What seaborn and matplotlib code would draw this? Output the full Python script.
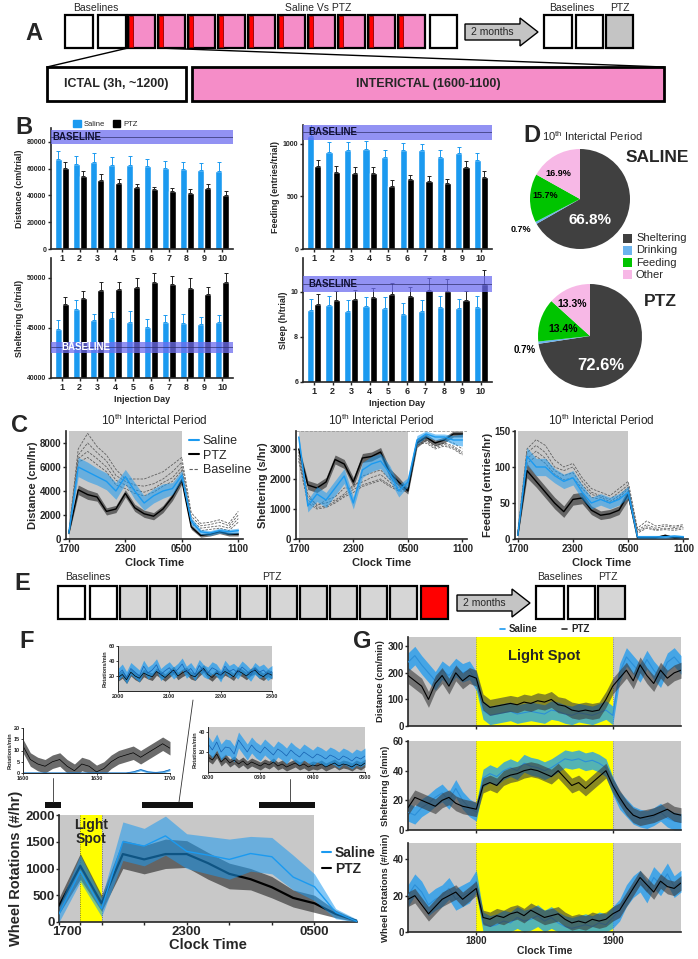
import numpy as np
import pandas as pd
import seaborn as sns
import matplotlib.pyplot as plt
import matplotlib.transforms as mtrans
from matplotlib.patches import Rectangle, Polygon
from matplotlib.lines import Line2D

sns.set_theme(style="ticks")
plt.rcParams['font.family'] = ['Liberation Sans', 'DejaVu Sans']
plt.rcParams['font.weight'] = 'bold'
plt.rcParams['axes.labelweight'] = 'bold'
plt.rcParams['axes.linewidth'] = 1.2
plt.rcParams['xtick.major.width'] = 1.0
plt.rcParams['ytick.major.width'] = 1.0
plt.rcParams['xtick.major.size'] = 2.5
plt.rcParams['ytick.major.size'] = 2.5

BLUE = "#1B9AF0"
BAND = "#6E6EF0"
GRAY = "#C8C8C8"
PINK = "#F58DC8"
YELLOW = "#FFFF00"

# ---------------- data ----------------
days = [1, 2, 3, 4, 5, 6, 7, 8, 9, 10]

dist_sal = [67500, 63500, 65000, 62500, 63000, 62000, 60500, 59800, 59000, 58200]
dist_sal_err = [6000, 6000, 7000, 6500, 6500, 5500, 5500, 5500, 5000, 6500]
dist_ptz = [60500, 54500, 51700, 49000, 46000, 44500, 43000, 42000, 45500, 40500]
dist_ptz_err = [4500, 3500, 4000, 3000, 2500, 2000, 2500, 2500, 3000, 3000]
dist_base = [78500, 83700, 89000]

shel_sal = [44900, 46900, 45800, 46000, 45600, 45100, 45600, 45500, 45400, 45600]
shel_sal_err = [900, 900, 600, 600, 1100, 800, 700, 900, 700, 700]
shel_ptz = [47400, 48000, 48800, 48900, 49100, 49600, 49400, 49000, 48400, 49600]
shel_ptz_err = [700, 700, 800, 700, 900, 900, 800, 1000, 700, 900]
shel_base = [42500, 43100, 43600]

feed_sal = [1080, 920, 940, 950, 876, 943, 943, 876, 914, 848]
feed_sal_err = [120, 100, 80, 80, 70, 70, 60, 70, 60, 70]
feed_ptz = [790, 730, 720, 720, 600, 667, 648, 628, 781, 686]
feed_ptz_err = [60, 60, 60, 60, 60, 40, 50, 40, 60, 60]
feed_base = [1040, 1114, 1180]

sleep_sal = [9.2, 9.4, 9.15, 9.35, 9.28, 9.0, 9.15, 9.33, 9.3, 9.33]
sleep_sal_err = [0.5, 0.4, 0.5, 0.4, 0.5, 0.5, 0.5, 0.5, 0.4, 0.5]
sleep_ptz = [9.45, 9.65, 9.7, 9.75, 9.9, 9.8, 10.1, 10.05, 9.65, 10.35]
sleep_ptz_err = [0.45, 0.4, 0.4, 0.4, 0.5, 0.4, 0.5, 0.5, 0.4, 0.6]
sleep_base = [10.0, 10.35, 10.7]

pie_labels = ["Sheltering", "Drinking", "Feeding", "Other"]
pie_colors = ["#404040", "#6CB4EE", "#00C400", "#F7B8E6"]
pie_saline = [66.8, 0.7, 15.7, 16.9]
pie_ptz = [72.6, 0.7, 13.4, 13.3]

hours = list(range(19))
c_ticks = [0, 6, 12, 18]
c_ticklabels = ["1700", "2300", "0500", "1100"]

cd_sal = [500, 6000, 5600, 5200, 4800, 4000, 5200, 4000, 3000, 3600, 4000, 4200, 5300, 1500, 600, 500, 700, 600, 700]
cd_sal_sem = [100, 800, 800, 700, 700, 700, 600, 700, 600, 600, 600, 500, 400, 300, 200, 200, 200, 200, 200]
cd_ptz = [500, 4100, 3700, 3500, 2300, 2500, 3800, 2600, 2100, 1900, 2500, 3500, 4900, 1000, 300, 400, 600, 400, 400]
cd_ptz_sem = [100, 400, 400, 350, 300, 300, 300, 300, 300, 300, 300, 300, 300, 200, 150, 150, 150, 150, 150]
cd_base = [
    [600, 7500, 8800, 7700, 7000, 5800, 5000, 5000, 5000, 5300, 5600, 6200, 6800, 2200, 1300, 1400, 1600, 1300, 2300],
    [500, 7000, 8000, 7200, 6500, 5300, 4800, 4500, 4400, 4600, 5000, 5600, 6400, 1900, 1100, 1200, 1400, 1100, 2000],
    [500, 6700, 7300, 6700, 6000, 4900, 4500, 4100, 3900, 4200, 4700, 5100, 6000, 1600, 900, 1000, 1100, 900, 1700],
    [400, 6400, 6800, 6200, 5600, 4500, 4200, 3800, 3600, 3900, 4400, 4800, 5700, 1300, 700, 800, 900, 700, 1400],
]

cs_sal = [3400, 1100, 1500, 1300, 1700, 2100, 1200, 2300, 2500, 2600, 2200, 1600, 1900, 3300, 3500, 3400, 3400, 3300, 3300]
cs_sal_sem = [100, 200, 250, 250, 250, 250, 200, 250, 250, 250, 250, 200, 150, 150, 100, 100, 100, 150, 200]
cs_ptz = [3000, 1800, 1700, 1900, 2650, 2500, 1900, 2700, 2750, 2900, 2200, 1900, 1600, 3200, 3400, 3200, 3300, 3500, 3500]
cs_ptz_sem = [100, 150, 150, 150, 150, 150, 150, 150, 150, 150, 150, 150, 100, 150, 100, 100, 100, 100, 100]
cs_base = [
    [2900, 1500, 1100, 1300, 1400, 1700, 1700, 2100, 2200, 2300, 2000, 1800, 1800, 3300, 3350, 3200, 3300, 3200, 3000],
    [2800, 1400, 1150, 1200, 1300, 1500, 1800, 1900, 2050, 2150, 1900, 1700, 1700, 3250, 3300, 3100, 3200, 3100, 2900],
    [2700, 1300, 1050, 1100, 1250, 1450, 1650, 1800, 1900, 2000, 1800, 1650, 1650, 3200, 3250, 3050, 3150, 3050, 2850],
    [2600, 1200, 1000, 1050, 1200, 1400, 1550, 1750, 1850, 1950, 1750, 1600, 1600, 3150, 3200, 3000, 3100, 3000, 2800],
]

cf_sal = [5, 115, 100, 100, 88, 80, 85, 65, 50, 55, 50, 55, 65, 3, 3, 3, 3, 4, 3]
cf_sal_sem = [2, 12, 12, 12, 10, 10, 10, 10, 8, 8, 8, 8, 8, 2, 2, 2, 2, 2, 2]
cf_ptz = [5, 95, 80, 65, 50, 38, 55, 57, 40, 33, 35, 40, 62, 2, 2, 2, 5, 2, 2]
cf_ptz_sem = [2, 10, 8, 8, 8, 8, 8, 8, 6, 6, 6, 6, 8, 1, 1, 1, 2, 1, 1]
cf_base = [
    [10, 125, 138, 130, 110, 100, 105, 85, 70, 65, 60, 70, 80, 15, 25, 18, 20, 18, 20],
    [8, 120, 130, 120, 100, 95, 100, 80, 65, 60, 55, 65, 75, 12, 20, 15, 18, 16, 18],
    [6, 112, 122, 112, 95, 88, 92, 75, 62, 58, 52, 60, 72, 10, 17, 13, 15, 14, 16],
    [5, 105, 115, 105, 90, 82, 85, 70, 58, 55, 50, 57, 70, 8, 15, 12, 13, 12, 14],
]

# F: wheel rotations per hour
f_hours = list(range(15))
f_sal = [150, 950, 250, 1500, 1420, 1610, 1320, 1250, 1170, 1280, 1220, 840, 660, 180, 10]
f_sal_hi = [300, 1250, 450, 1870, 1750, 1980, 1650, 1600, 1550, 1600, 1580, 1250, 900, 250, 50]
f_sal_lo = [0, 750, 100, 1150, 1050, 1250, 1000, 900, 800, 950, 900, 600, 400, 60, 0]
f_ptz = [300, 1050, 350, 1270, 1170, 1270, 1270, 1100, 900, 800, 650, 450, 350, 150, 20]
f_ptz_hi = [450, 1280, 500, 1530, 1430, 1550, 1520, 1300, 1100, 1000, 850, 600, 500, 220, 40]
f_ptz_lo = [150, 800, 200, 1000, 900, 1000, 1020, 800, 620, 600, 450, 280, 180, 80, 0]

# F insets (rotations/min)
in1_t = list(range(0, 61, 3))
in1_ptz = [12, 6, 4, 3, 5, 6, 3, 1, 4, 3, 0.5, 2, 5, 7, 8, 9, 7, 9, 11, 13, 11]
in1_sal = [0, 0, 0, 0, 0, 0, 0, 0, 0, 0, 0, 0, 0, 0, 0, 0.5, 1.5, 0.5, 0.2, 0.5, 1.5]
in2_t = list(range(0, 181, 5))
in2_sal = [22, 28, 18, 30, 25, 20, 33, 24, 28, 35, 22, 27, 31, 24, 29, 36, 25, 30, 22, 34, 27, 24, 31, 28, 20,
           33, 26, 29, 24, 32, 27, 21, 30, 25, 28, 22, 26]
in2_ptz = [18, 22, 15, 25, 20, 17, 24, 21, 19, 26, 22, 18, 23, 28, 20, 24, 27, 21, 19, 25, 30, 22, 18, 24, 21,
           26, 23, 19, 27, 24, 20, 25, 28, 22, 19, 24, 21]
in3_t = list(range(0, 181, 5))
in3_sal = [28, 22, 30, 20, 25, 24, 18, 32, 26, 20, 27, 22, 19, 25, 21, 17, 23, 20, 16, 22, 18, 15, 20, 17, 14,
           18, 16, 13, 17, 15, 12, 16, 14, 11, 15, 13, 16]
in3_ptz = [15, 12, 18, 10, 14, 9, 12, 8, 11, 7, 10, 8, 6, 9, 7, 10, 6, 8, 5, 7, 9, 6, 8, 5, 7,
           6, 8, 5, 7, 9, 6, 8, 7, 5, 8, 6, 9]

# G: light spot test, minutes from 1800
g_t = list(range(-30, 91, 3))
gd_sal = [240, 265, 230, 200, 170, 210, 190, 220, 200, 210, 170, 60, 40, 45, 50, 55, 45, 50, 55, 50, 45,
          60, 55, 45, 40, 50, 45, 40, 50, 60, 40, 200, 260, 230, 200, 250, 210, 180, 240, 260, 230]
gd_ptz = [190, 170, 150, 100, 160, 190, 150, 200, 170, 190, 180, 90, 70, 75, 80, 85, 80, 90, 85, 95, 90,
          100, 80, 75, 60, 55, 60, 55, 60, 100, 150, 180, 210, 170, 230, 190, 160, 210, 180, 200, 210]
gs_sal = [12, 10, 15, 18, 22, 25, 20, 28, 20, 15, 12, 35, 38, 36, 40, 42, 40, 45, 43, 42, 40,
          42, 45, 48, 47, 48, 46, 47, 45, 42, 30, 20, 15, 10, 8, 7, 9, 12, 8, 6, 5]
gs_ptz = [15, 22, 20, 18, 16, 20, 22, 18, 16, 15, 14, 30, 32, 30, 35, 37, 38, 40, 41, 40, 38,
          36, 40, 35, 30, 32, 28, 32, 36, 40, 30, 22, 15, 10, 8, 9, 10, 12, 14, 11, 10]
gw_sal = [20, 26, 22, 15, 18, 20, 24, 18, 20, 22, 28, 5, 3, 4, 6, 5, 8, 6, 7, 9, 6,
          8, 5, 3, 2, 3, 4, 3, 5, 4, 8, 12, 20, 25, 28, 22, 30, 26, 32, 25, 28]
gw_ptz = [18, 20, 15, 10, 14, 18, 20, 22, 18, 21, 24, 8, 7, 9, 8, 10, 11, 9, 12, 10, 8,
          9, 10, 7, 5, 6, 5, 7, 6, 7, 10, 12, 18, 24, 30, 26, 22, 28, 25, 24, 27]

# ---------------- figure ----------------
W, H = 698, 959
fig = plt.figure(figsize=(W / 100, H / 100), dpi=100)


def px_axes(x0, y0, x1, y1):
    return fig.add_axes([x0 / W, 1 - y1 / H, (x1 - x0) / W, (y1 - y0) / H])


ov = fig.add_axes([0, 0, 1, 1])
ov.set_xlim(0, W)
ov.set_ylim(H, 0)
ov.axis("off")
ov.set_zorder(5)

NARROW = ['Liberation Sans Narrow', 'Liberation Sans', 'DejaVu Sans']


def box(x, y, w, h, fc="white", lw=1.6):
    ov.add_patch(Rectangle((x, y), w, h, facecolor=fc, edgecolor="black", lw=lw))


def note(x, y, s, fs=7.5):
    ov.text(x, y, s, ha="center", va="center", fontsize=fs, fontweight="normal", family=NARROW)


def arrow(x0, x1, yc, label):
    body = 8
    head = 14
    pts = [(x0, yc - body), (x1 - 18, yc - body), (x1 - 18, yc - head), (x1, yc),
           (x1 - 18, yc + head), (x1 - 18, yc + body), (x0, yc + body)]
    ov.add_patch(Polygon(pts, closed=True, facecolor="#C4C4C4", edgecolor="black", lw=1.0))
    note((x0 + x1 - 18) / 2, yc, label)


def letter(x, y, s):
    ov.text(x, y, s, fontsize=17, fontweight="bold", ha="center", va="center")


# ---- A ----
letter(34, 34, "A")
box(65, 15, 28, 33)
box(98, 15, 28, 33)
for i in range(10):
    x = 128 + 30 * i
    box(x, 15, 27, 33, fc=PINK)
    ov.add_patch(Rectangle((x + 0.8, 15.8), 4, 31.4, facecolor="#FF0000", edgecolor="#8B0000", lw=0.6))
box(430, 15, 27, 33)
arrow(465, 538, 32, "2 months")
box(544, 15, 28, 33)
box(576, 15, 27, 33)
box(606, 15, 27, 33, fc="#C4C4C4")
note(96, 8, "Baselines")
note(318, 8, "Saline Vs PTZ")
note(572, 8, "Baselines")
note(620, 8, "PTZ")
ov.plot([128, 47], [48, 67], color="black", lw=1.0)
ov.plot([158, 664], [48, 67], color="black", lw=1.0)
box(47, 67, 139, 34, lw=2)
box(192, 67, 472, 34, fc=PINK, lw=2)
ov.text(116, 84, "ICTAL (3h, ~1200)", ha="center", va="center", fontsize=9, family=NARROW)
ov.text(428, 84, "INTERICTAL (1600-1100)", ha="center", va="center", fontsize=9, family=NARROW)


# ---- B ----
def bars(ax, sal, sal_err, ptz, ptz_err, base, ylim, yticks, ylabel, base_col, base_x, xlabel=None):
    ax.set_facecolor("none")
    df = pd.DataFrame({"day": days * 2, "val": sal + ptz,
                       "group": ["Saline"] * 10 + ["PTZ"] * 10})
    sns.barplot(data=df, x="day", y="val", hue="group", palette=[BLUE, "black"], width=0.78,
                errorbar=None, saturation=1, legend=False, ax=ax)
    for cont, err, col in zip(ax.containers, [sal_err, ptz_err], [BLUE, "#222222"]):
        xs = [b.get_x() + b.get_width() / 2 for b in cont]
        hs = [b.get_height() for b in cont]
        ax.errorbar(xs, hs, yerr=[np.zeros(10), err], fmt="none", ecolor=col, elinewidth=0.7,
                    capsize=1.6, capthick=0.7)
    ax.axhspan(base[0], base[2], color=BAND, alpha=0.75, lw=0, zorder=5)
    ax.axhline(base[1], color="#30306A", lw=0.5, zorder=6)
    ax.text(base_x, base[1], "BASELINE", fontsize=7, fontweight="bold", color=base_col,
            va="center", ha="left", zorder=7)
    ax.set_ylim(ylim)
    ax.set_xlim(-0.6, 9.6)
    ax.set_yticks(yticks)
    ax.set_ylabel(ylabel, fontsize=6.5, labelpad=2)
    ax.set_xlabel(xlabel if xlabel else "", fontsize=6.5, labelpad=2)
    ax.tick_params(axis="x", labelsize=6.5, pad=1)
    ax.tick_params(axis="y", labelsize=5, pad=1)
    sns.despine(ax=ax)


ax = px_axes(51, 128, 233, 249)
bars(ax, dist_sal, dist_sal_err, dist_ptz, dist_ptz_err, dist_base, (0, 90400),
     [0, 20000, 40000, 60000, 80000], "Distance (cm/trial)", "#111133", -0.5)
ax.legend(handles=[Rectangle((0, 0), 1, 1, color=BLUE), Rectangle((0, 0), 1, 1, color="black")],
          labels=["Saline", "PTZ"], ncol=2, frameon=False, loc="lower left",
          bbox_to_anchor=(0.1, 0.97), handlelength=1.0, handleheight=1.0, columnspacing=1.0,
          handletextpad=0.4, borderpad=0, prop={"weight": "normal", "size": 5.5})

ax = px_axes(51, 258, 233, 378)
bars(ax, shel_sal, shel_sal_err, shel_ptz, shel_ptz_err, shel_base, (40000, 52000),
     [40000, 45000, 50000], "Sheltering (s/trial)", "white", 0.0, "Injection Day")

ax = px_axes(303, 125, 492, 249)
bars(ax, feed_sal, feed_sal_err, feed_ptz, feed_ptz_err, feed_base, (0, 1180),
     [0, 500, 1000], "Feeding (entries/trial)", "#111133", -0.3)

ax = px_axes(303, 258, 492, 382)
bars(ax, sleep_sal, sleep_sal_err, sleep_ptz, sleep_ptz_err, sleep_base, (6, 11.5),
     [6, 8, 10], "Sleep (h/trial)", "#111133", -0.3, "Injection Day")

letter(24, 127, "B")

# ---- D ----
letter(532, 135, "D")
ov.text(542, 136, r"10$^{\mathregular{th}}$ Interictal Period", fontsize=8, fontweight="normal",
        va="center", ha="left")


def pie(box_px, vals, texts):
    ax = px_axes(*box_px)
    ax.pie(vals, colors=pie_colors, startangle=90, counterclock=False,
           wedgeprops=dict(linewidth=0))
    ax.set_xlim(-1, 1)
    ax.set_ylim(-1, 1)
    ax.set_aspect("equal")
    for (x, y, s, col, fs) in texts:
        ax.text(x, y, s, color=col, fontsize=fs, ha="center", va="center", fontweight="bold",
                clip_on=False)


pie((530, 149, 630, 249), pie_saline,
    [(0.2, -0.42, "66.8%", "white", 11), (-0.7, 0.06, "15.7%", "black", 6.5),
     (-0.44, 0.5, "16.9%", "black", 6.5), (-1.18, -0.6, "0.7%", "black", 6.5)])
pie((538, 284, 642, 388), pie_ptz,
    [(0.2, -0.56, "72.6%", "white", 12), (-0.52, 0.13, "13.4%", "black", 7.5),
     (-0.35, 0.62, "13.3%", "black", 7.5), (-1.26, -0.27, "0.7%", "black", 7)])
ov.text(657, 157, "SALINE", fontsize=12.5, fontweight="bold", ha="center", va="center")
ov.text(660, 302, "PTZ", fontsize=12.5, fontweight="bold", ha="center", va="center")
for i, (lab, col) in enumerate(zip(pie_labels, pie_colors)):
    y = 238 + 12.3 * i
    ov.add_patch(Rectangle((623, y - 4.5), 9, 9, facecolor=col, edgecolor="none"))
    ov.text(636, y, lab, fontsize=8, fontweight="normal", va="center", ha="left")


# ---- C ----
def cplot(box_px, sal, sal_sem, ptz, ptz_sem, bases, ylim, yticks, ylabel):
    ax = px_axes(*box_px)
    ax.axvspan(0, 12, color=GRAY, lw=0, zorder=0)
    sal = np.array(sal, float)
    ptz = np.array(ptz, float)
    for bl in bases:
        ax.plot(hours, bl, color="#606060", lw=0.6, dashes=(3, 1.5), zorder=1)
    ax.fill_between(hours, ptz - np.array(ptz_sem), ptz + np.array(ptz_sem), color="#3A3A3A",
                    alpha=0.7, lw=0, zorder=2)
    sns.lineplot(x=hours, y=ptz, color="black", lw=1.0, ax=ax, zorder=3)
    ax.fill_between(hours, sal - np.array(sal_sem), sal + np.array(sal_sem), color=BLUE,
                    alpha=0.55, lw=0, zorder=4)
    sns.lineplot(x=hours, y=sal, color=BLUE, lw=1.0, ax=ax, zorder=5)
    ax.set_xlim(-0.3, 18.5)
    ax.set_ylim(ylim)
    ax.set_yticks(yticks)
    ax.set_xticks(c_ticks)
    ax.set_xticklabels(c_ticklabels)
    ax.tick_params(labelsize=7, pad=1)
    ax.set_ylabel(ylabel, fontsize=8, labelpad=1)
    ax.set_xlabel("Clock Time", fontsize=8, labelpad=3)
    ax.set_title(r"10$^{\mathregular{th}}$ Interictal Period", fontsize=8.5, fontweight="normal", pad=4)
    sns.despine(ax=ax)
    return ax


ax = cplot((66, 431, 243, 539), cd_sal, cd_sal_sem, cd_ptz, cd_ptz_sem, cd_base, (0, 9000),
           [0, 2000, 4000, 6000, 8000], "Distance (cm/hr)")
ax.legend(handles=[Line2D([], [], color=BLUE, lw=1.5), Line2D([], [], color="black", lw=1.5),
                   Line2D([], [], color="#606060", lw=0.8, dashes=(3, 1.5))],
          labels=["Saline", "PTZ", "Baseline"], loc="upper left", bbox_to_anchor=(0.66, 1.02),
          frameon=False, handlelength=0.8, handletextpad=0.3, labelspacing=0.2, borderpad=0,
          prop={"weight": "normal", "size": 9})
ax = cplot((296, 431, 467, 539), cs_sal, cs_sal_sem, cs_ptz, cs_ptz_sem, cs_base, (0, 3600),
           [0, 1000, 2000, 3000], "Sheltering (s/hr)")
ax.axhline(3600, color="#999999", lw=0.6, ls="--")
cplot((515, 431, 688, 539), cf_sal, cf_sal_sem, cf_ptz, cf_ptz_sem, cf_base, (0, 150),
      [0, 50, 100, 150], "Feeding (entries/hr)")
letter(20, 425, "C")

# ---- E ----
letter(22, 583, "E")
box(58, 586, 27, 33)
box(90, 586, 27, 33)
for i in range(10):
    box(120 + 30 * i, 586, 27, 33, fc="#D6D6D6")
box(421, 586, 27, 33, fc="#FF0000")
arrow(457, 530, 603, "2 months")
box(536, 586, 28, 33)
box(568, 586, 27, 33)
box(598, 586, 27, 33, fc="#D6D6D6")
note(88, 577, "Baselines")
note(272, 577, "PTZ")
note(560, 577, "Baselines")
note(608, 577, "PTZ")


# ---- F ----
letter(27, 642, "F")


def inset(box_px, t, sal, ptz, s_sem, p_sem, ylim, yticks, xt, xl, gray):
    ax = px_axes(*box_px)
    if gray:
        ax.set_facecolor(GRAY)
    sal = np.array(sal, float)
    ptz = np.array(ptz, float)
    ax.fill_between(t, ptz - p_sem, ptz + p_sem, color="#3A3A3A", alpha=0.75, lw=0)
    ax.plot(t, ptz, color="black", lw=0.5)
    ax.fill_between(t, np.clip(sal - s_sem, 0, None), sal + s_sem, color=BLUE, alpha=0.7, lw=0)
    ax.plot(t, sal, color="#1560B0", lw=0.5)
    ax.set_xlim(t[0], t[-1])
    ax.set_ylim(ylim)
    ax.set_yticks(yticks)
    ax.set_xticks(xt)
    ax.set_xticklabels(xl)
    ax.tick_params(labelsize=4, pad=0.5, length=1.5, width=0.6)
    ax.set_ylabel("Rotations/min", fontsize=4, labelpad=1)
    for s in ["left", "bottom"]:
        ax.spines[s].set_linewidth(0.7)
    sns.despine(ax=ax)
    return ax


inset((118, 646, 272, 691), in2_t, in2_sal, in2_ptz, 8, 5, (0, 60), [20, 40, 60],
      [0, 60, 120, 180], ["2000", "2100", "2200", "2300"], True)
inset((23, 728, 170, 773), in1_t, in1_sal, in1_ptz, 0.5, 3, (0, 20), [0, 5, 10, 15, 20],
      [0, 30, 60], ["1600", "1630", "1700"], False)
inset((208, 727, 365, 772), in3_t, in3_sal, in3_ptz, 8, 4, (0, 45), [20, 40],
      [0, 60, 120, 180], ["0200", "0300", "0400", "0500"], True)

for x0, x1 in [(45, 61), (142, 193), (259, 315)]:
    ov.add_patch(Rectangle((x0, 802), x1 - x0, 6, facecolor="#111111", edgecolor="none"))
ov.plot([53, 53], [802, 778], color="#333333", lw=0.6)
ov.plot([179, 193], [802, 700], color="#333333", lw=0.6)
ov.plot([290, 290], [802, 779], color="#333333", lw=0.6)

ax = px_axes(59, 815, 357, 922)
ax.axvspan(0, 12, color=GRAY, lw=0, zorder=0)
ax.axvspan(1, 2, color=YELLOW, lw=0, zorder=0.5)
ax.axvline(1, color="#555555", lw=0.6, ls=":", zorder=0.6)
ax.axvline(2, color="#555555", lw=0.6, ls=":", zorder=0.6)
ax.fill_between(f_hours, f_ptz_lo, f_ptz_hi, color="#3A3A3A", alpha=0.7, lw=0, zorder=2)
sns.lineplot(x=f_hours, y=f_ptz, color="black", lw=1.6, ax=ax, zorder=3)
ax.fill_between(f_hours, f_sal_lo, f_sal_hi, color=BLUE, alpha=0.55, lw=0, zorder=4)
sns.lineplot(x=f_hours, y=f_sal, color=BLUE, lw=1.0, ax=ax, zorder=5)
ax.text(1.5, 1680, "Light\nSpot", ha="center", va="center", fontsize=10, fontweight="bold",
        linespacing=0.95, zorder=6)
ax.set_xlim(0, 14)
ax.set_ylim(0, 2000)
ax.set_yticks([0, 500, 1000, 1500, 2000])
ax.set_xticks([0, 1, 2, 4, 6, 8, 10, 12])
ax.set_xticklabels(["1700", "", "", "", "2300", "", "", "0500"])
ax.tick_params(labelsize=9.5, pad=0.5)
first = ax.get_xticklabels()[0]
first.set_transform(first.get_transform() + mtrans.ScaledTranslation(8 / 100, 0, fig.dpi_scale_trans))
ax.set_ylabel("Wheel Rotations (#/hr)", fontsize=10.5, labelpad=2)
ax.set_xlabel("Clock Time", fontsize=10.5, labelpad=0)
sns.despine(ax=ax)
ax.legend(handles=[Line2D([], [], color=BLUE, lw=1.5), Line2D([], [], color="black", lw=1.5)],
          labels=["Saline", "PTZ"], loc="center left", bbox_to_anchor=(0.86, 0.57),
          frameon=False, handlelength=0.6, handletextpad=0.3, labelspacing=0.1, borderpad=0,
          prop={"weight": "bold", "size": 10})

# ---- G ----
letter(362, 642, "G")


def gplot(box_px, sal, ptz, s_sem, p_sem, ylim, yticks, ylabel, labels):
    ax = px_axes(*box_px)
    ax.set_facecolor(GRAY)
    ax.axvspan(0, 60, color=YELLOW, lw=0, zorder=0)
    ax.axvline(0, color="#777777", lw=0.6, ls=":", zorder=0.5)
    ax.axvline(60, color="#777777", lw=0.6, ls=":", zorder=0.5)
    sal = np.array(sal, float)
    ptz = np.array(ptz, float)
    ax.fill_between(g_t, np.clip(sal - s_sem, 0, None), sal + s_sem, color=BLUE, alpha=0.75,
                    lw=0, zorder=2)
    sns.lineplot(x=g_t, y=sal, color="#2C8FD8", lw=0.8, ax=ax, zorder=3)
    ax.fill_between(g_t, np.clip(ptz - p_sem, 0, None), ptz + p_sem, color="#3A3A3A", alpha=0.6,
                    lw=0, zorder=4)
    sns.lineplot(x=g_t, y=ptz, color="black", lw=0.8, ax=ax, zorder=5)
    ax.set_xlim(-30, 90)
    ax.set_ylim(ylim)
    ax.set_yticks(yticks)
    ax.set_xticks([0, 60])
    ax.set_xticklabels(["1800", "1900"] if labels else ["", ""])
    ax.tick_params(labelsize=7, pad=0.5)
    ax.set_ylabel(ylabel, fontsize=6.8, labelpad=2)
    ax.set_xlabel("Clock Time" if labels else "", fontsize=7.5, labelpad=0)
    sns.despine(ax=ax)
    return ax


ax = gplot((408, 637, 681, 726), gd_sal, gd_ptz, 35, 30, (0, 335), [0, 100, 200, 300],
           "Distance (cm/min)", False)
ax.text(30, 262, "Light Spot", ha="center", va="center", fontsize=10.5, fontweight="bold", zorder=6)
ax.legend(handles=[Line2D([], [], color=BLUE, lw=1.2), Line2D([], [], color="#333333", lw=1.2)],
          labels=["Saline", "PTZ"], ncol=2, loc="lower left", bbox_to_anchor=(0.32, 0.98),
          frameon=False, handlelength=0.5, handletextpad=0.4, columnspacing=2.5, borderpad=0,
          prop={"weight": "bold", "size": 7})
gplot((408, 741, 681, 830), gs_sal, gs_ptz, 6, 5, (0, 60), [0, 20, 40, 60],
      "Sheltering (s/min)", False)
gplot((408, 843, 681, 932), gw_sal, gw_ptz, 6, 4, (0, 49), [0, 20, 40],
      "Wheel Rotations (#/min)", True)

fig.savefig("out.png", dpi=100)
